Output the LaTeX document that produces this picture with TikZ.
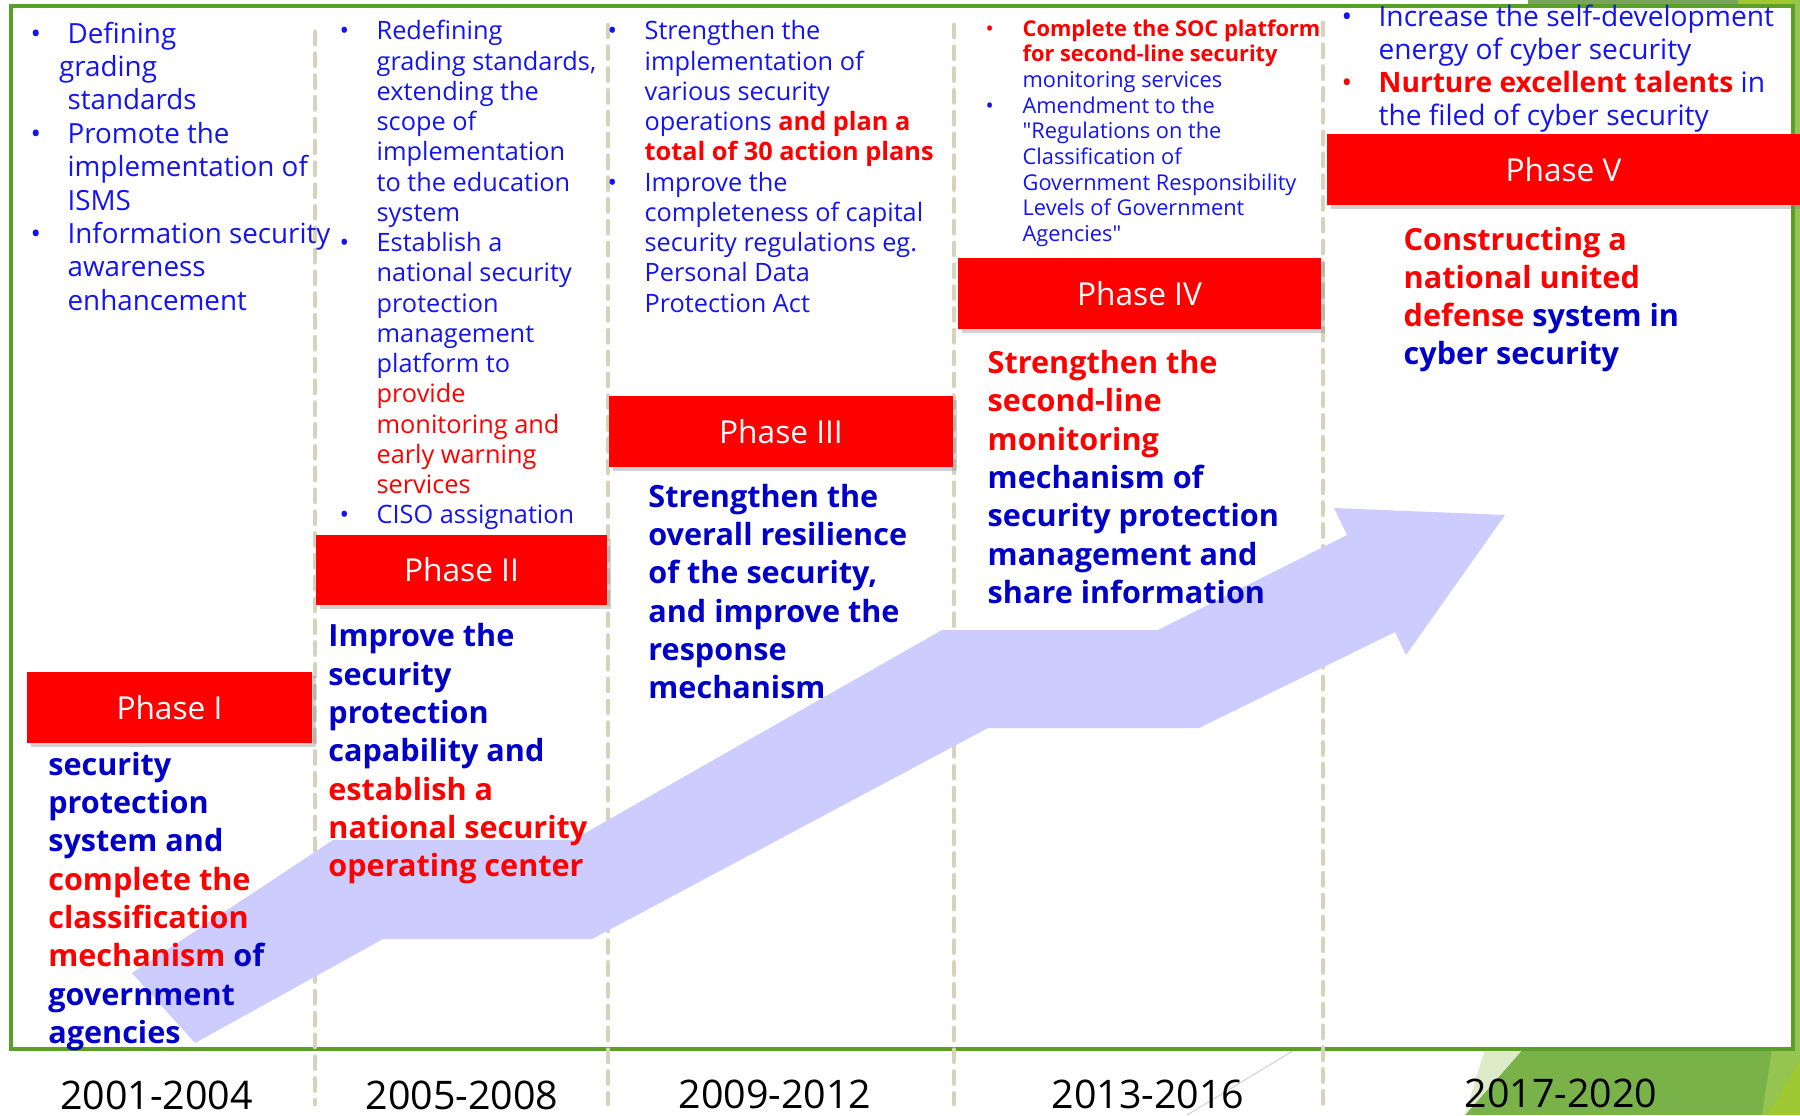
\documentclass[tikz,border=0pt]{standalone}
\usepackage[dvipsnames]{xcolor}
\usepackage{fontspec}
\setmainfont{Open Sans}[Ligatures=TeXOff]
\usetikzlibrary{shadows,positioning}

\definecolor{phasered}{RGB}{255,0,0}
\definecolor{txtblue}{RGB}{20,20,240}
\definecolor{boldblue}{RGB}{0,0,200}
\definecolor{framegreen}{RGB}{90,160,40}
\definecolor{sepbeige}{RGB}{214,210,188}
\definecolor{bandlilac}{RGB}{204,204,255}
\definecolor{facetlight}{RGB}{221,235,200}
\definecolor{facetdark}{RGB}{122,178,74}
\definecolor{facetmid}{RGB}{150,196,80}
\definecolor{facetlime}{RGB}{160,200,50}
\definecolor{facettop}{RGB}{120,163,90}

\newcommand{\bul}{\makebox[10.5pt][l]{\textbullet}}
\newcommand{\rbul}{\makebox[10.5pt][l]{\textcolor{red}{\textbullet}}}
\newcommand{\ind}{\hspace*{10.5pt}}
\newcommand{\hot}[1]{\textcolor{red}{#1}}

\begin{document}
\begin{tikzpicture}[x=0.01cm, y=-0.01cm,
  phasebox/.style={fill=phasered, text=white, inner sep=0pt, font=\fontsize{9pt}{10pt}\selectfont, drop shadow={shadow xshift=1.2pt, shadow yshift=-1.2pt, opacity=0.35}},
  plan/.style={anchor=base west, inner sep=0pt, text=txtblue},
  goal/.style={anchor=base west, inner sep=0pt, text=boldblue, font=\fontsize{8.7pt}{10.9pt}\selectfont\bfseries},
  yearlbl/.style={anchor=base, inner sep=0pt, font=\fontsize{11.2pt}{13pt}\selectfont},
  divider/.style={draw=sepbeige, line width=1.4pt, line cap=round, dash pattern=on 3.4pt off 2.8pt}]

  \useasboundingbox (0,0) rectangle (1800,1115);
  \fill[white] (0,0) rectangle (1800,1115);

  \fill[facetdark] (1523,1049) -- (1800,1049) -- (1800,1115) -- (1465,1115) -- cycle;
  \fill[facetlight] (1485,1049) -- (1523,1049) -- (1465,1115) -- cycle;
  \fill[facetmid] (1772,1049) -- (1800,1049) -- (1800,1115) -- (1762,1115) -- cycle;
  \fill[facetlime] (1800,1060) -- (1800,1115) -- (1768,1115) -- cycle;
  \fill[facettop] (1528,0) rectangle (1738,6);
  \fill[facetlime] (1738,0) rectangle (1800,6);
  \fill[facetmid] (1793,0) rectangle (1800,1049);
  \draw[gray!35, line width=0.3pt] (1187,1115) -- (1296,1049);

  \draw[framegreen, line width=1.1pt] (11,6) rectangle (1793,1049);

  \foreach \xs/\ys in {315/32, 608/25, 954/25, 1323/23}
    \draw[divider] (\xs,\ys) -- (\xs,1104);

  \fill[bandlilac] (132,973) -- (333,840) -- (573,840) -- (942,630) -- (1158,630) -- (1347,535) -- (1334,508) -- (1505,515) -- (1406,655) -- (1395,632) -- (1199,728) -- (988,728) -- (592,939) -- (383,939) -- (195,1043) -- cycle;

  \node[phasebox, minimum width=2.85cm, minimum height=0.71cm] (ph1) at (169.5,707.5) {Phase I};
  \node[phasebox, minimum width=2.91cm, minimum height=0.70cm] (ph2) at (461.5,570) {Phase II};
  \node[phasebox, minimum width=3.44cm, minimum height=0.71cm] (ph3) at (781,431.5) {Phase III};
  \node[phasebox, minimum width=3.63cm, minimum height=0.71cm] (ph4) at (1139.5,293.5) {Phase IV};
  \node[phasebox, minimum width=4.73cm, minimum height=0.71cm] (ph5) at (1563.5,169.5) {Phase V};

  \node[plan, font=\fontsize{7.9pt}{9.5pt}\selectfont] (plan1) at (30,43) {\begin{tabular}[t]{@{}l@{}}
    \bul Defining\\
    \ind\hspace{-2.4pt}grading\\
    \ind standards\\
    \bul Promote the\\
    \ind implementation of\\
    \ind ISMS\\
    \bul Information security\\
    \ind awareness\\
    \ind enhancement
  \end{tabular}};

  \node[plan, font=\fontsize{7.2pt}{8.6pt}\selectfont] (plan2) at (339,40) {\begin{tabular}[t]{@{}l@{}}
    \bul Redefining\\
    \ind grading standards,\\
    \ind extending the\\
    \ind scope of\\
    \ind implementation\\
    \ind to the education\\
    \ind system\\
    \bul Establish a\\
    \ind national security\\
    \ind protection\\
    \ind management\\
    \ind platform to\\
    \ind\hot{provide}\\
    \ind\hot{monitoring and}\\
    \ind\hot{early warning}\\
    \ind\hot{services}\\
    \bul CISO assignation
  \end{tabular}};

  \node[plan, font=\fontsize{7.2pt}{8.6pt}\selectfont] (plan3) at (607,40) {\begin{tabular}[t]{@{}l@{}}
    \bul Strengthen the\\
    \ind implementation of\\
    \ind various security\\
    \ind operations \hot{\bfseries and plan a}\\
    \ind\hot{\bfseries total of 30 action plans}\\
    \bul Improve the\\
    \ind completeness of capital\\
    \ind security regulations eg.\\
    \ind Personal Data\\
    \ind Protection Act
  \end{tabular}};

  \node[plan, font=\fontsize{6.2pt}{7.3pt}\selectfont] (plan4) at (985,36) {\begin{tabular}[t]{@{}l@{}}
    \rbul\hot{\bfseries Complete the SOC platform}\\
    \ind\hot{\bfseries for second-line security}\\
    \ind monitoring services\\
    \bul Amendment to the\\
    \ind "Regulations on the\\
    \ind Classification of\\
    \ind Government Responsibility\\
    \ind Levels of Government\\
    \ind Agencies"
  \end{tabular}};

  \node[plan, font=\fontsize{8pt}{9.3pt}\selectfont] (plan5) at (1341,27) {\begin{tabular}[t]{@{}l@{}}
    \bul Increase the self-development\\
    \ind energy of cyber security\\
    \rbul\hot{\bfseries Nurture excellent talents} in\\
    \ind the filed of cyber security
  \end{tabular}};

  \node[goal] (goal1) at (47.6,775) {\begin{tabular}[t]{@{}l@{}}
    security\\ protection\\ system and\\ \hot{complete the}\\ \hot{classification}\\ \hot{mechanism} of\\ government\\ agencies
  \end{tabular}};
  \node[goal] (goal2) at (327.7,646.7) {\begin{tabular}[t]{@{}l@{}}
    Improve the\\ security\\ protection\\ capability and\\ \hot{establish a}\\ \hot{national security}\\ \hot{operating center}
  \end{tabular}};
  \node[goal] (goal3) at (647.7,507.3) {\begin{tabular}[t]{@{}l@{}}
    Strengthen the\\ overall resilience\\ of the security,\\ and improve the\\ response\\ mechanism
  \end{tabular}};
  \node[goal] (goal4) at (987,373.5) {\begin{tabular}[t]{@{}l@{}}
    \hot{Strengthen the}\\ \hot{second-line}\\ \hot{monitoring}\\ mechanism of\\ security protection\\ management and\\ share information
  \end{tabular}};
  \node[goal] (goal5) at (1403,250) {\begin{tabular}[t]{@{}l@{}}
    \hot{Constructing a}\\ \hot{national united}\\ \hot{defense} system in\\ cyber security
  \end{tabular}};

  \node[yearlbl] (yr1) at (156.5,1109) {2001-2004};
  \node[yearlbl] (yr2) at (462,1109) {2005-2008};
  \node[yearlbl] (yr3) at (775,1108) {2009-2012};
  \node[yearlbl] (yr4) at (1148,1108) {2013-2016};
  \node[yearlbl] (yr5) at (1561,1107) {2017-2020};
\end{tikzpicture}
\end{document}
